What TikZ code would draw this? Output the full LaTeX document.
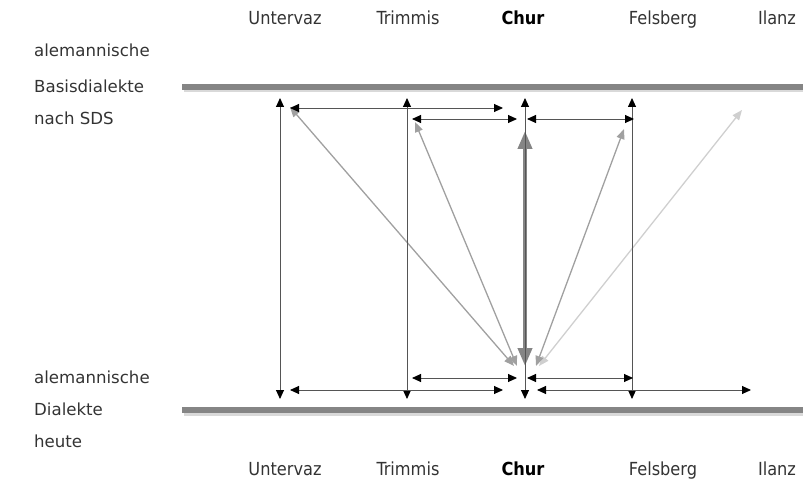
\documentclass[tikz,border=0pt]{standalone}
\usepackage{fontspec}
\setmainfont{DejaVu Sans}
\newfontfamily\condfont{DejaVu Sans Condensed}
\usetikzlibrary{arrows.meta}
\definecolor{txt}{HTML}{333333}
\definecolor{barc}{HTML}{858585}
\definecolor{linec}{HTML}{555555}
\definecolor{diagc}{HTML}{A0A0A0}
\definecolor{diagl}{HTML}{CFCFCF}
\begin{document}
\begin{tikzpicture}[x=1pt,y=-1pt,
  hdr/.style={inner sep=0pt, anchor=base, text=txt, font=\condfont\fontsize{18}{21}\selectfont},
  hdrb/.style={hdr, text=black, font=\condfont\bfseries\fontsize{18}{21}\selectfont},
  lbl/.style={inner sep=0pt, anchor=west, text=txt, font=\fontsize{16.6}{20}\selectfont},
  bartop/.style={line width=6pt, draw=barc},
  barshadow/.style={line width=6pt, draw=black!15},
  conn/.style={draw=linec, line width=0.9pt,
    arrows={Triangle[length=9pt,width=8pt,color=black]-Triangle[length=9pt,width=8pt,color=black]}},
  diag/.style={draw=diagc, line width=1.3pt,
    arrows={Triangle[length=10pt,width=8pt]-Triangle[length=10pt,width=8pt]}},
  diaglight/.style={diag, draw=diagl},
  thickarr/.style={draw=barc, line width=4pt,
    arrows={Triangle[length=18pt,width=14pt]-Triangle[length=18pt,width=14pt]}}
]
\useasboundingbox (0,0) rectangle (803,486);

% header and footer labels (baseline aligned)
\node[hdr] (hU) at (285,24.5) {Untervaz};
\node[hdr] (hT) at (408,24.5) {Trimmis};
\node[hdrb] (hC) at (523,24.5) {Chur};
\node[hdr] (hF) at (663,24.5) {Felsberg};
\node[hdr] (hI) at (777,24.5) {Ilanz};
\node[hdr] (fU) at (285,475.5) {Untervaz};
\node[hdr] (fT) at (408,475.5) {Trimmis};
\node[hdrb] (fC) at (523,475.5) {Chur};
\node[hdr] (fF) at (663,475.5) {Felsberg};
\node[hdr] (fI) at (777,475.5) {Ilanz};

% left labels
\node[lbl] (l1) at (34,50) {alemannische};
\node[lbl] (l2) at (34,86) {Basisdialekte};
\node[lbl] (l3) at (34,118) {nach SDS};
\node[lbl] (l4) at (34,377) {alemannische};
\node[lbl] (l5) at (34,409) {Dialekte};
\node[lbl] (l6) at (34,441) {heute};

% bars
\coordinate (btL) at (182,87);
\coordinate (btR) at (803,87);
\coordinate (bbL) at (182,410);
\coordinate (bbR) at (803,410);
\draw[barshadow] ([shift={(1.5,2.5)}]btL) -- ([shift={(1.5,2.5)}]btR);
\draw[barshadow] ([shift={(1.5,2.5)}]bbL) -- ([shift={(1.5,2.5)}]bbR);
\draw[bartop] (btL) -- (btR);
\draw[bartop] (bbL) -- (bbR);

% vertical connectors
\coordinate (Ut) at (280,98);  \coordinate (Ub) at (280,399);
\coordinate (Tt) at (407,98);  \coordinate (Tb) at (407,399);
\coordinate (Ct) at (525,98);  \coordinate (Cb) at (525,399);
\coordinate (Ft) at (632,98);  \coordinate (Fb) at (632,399);

% thick Chur arrow
\coordinate (CTt) at (525,131); \coordinate (CTb) at (525,366);
\draw[thickarr] (CTt) -- (CTb);

% diagonals
\coordinate (dU) at (290,107);
\coordinate (dT) at (415,122);
\coordinate (dF) at (624,129);
\coordinate (dI) at (742,110);
\coordinate (dL) at (514,366);
\coordinate (dL2) at (517,366);
\coordinate (dR) at (536,366);
\coordinate (dR2) at (539,366);
\draw[diaglight] (dI) -- (dR2);
\draw[diag] (dU) -- (dL);
\draw[diag] (dT) -- (dL2);
\draw[diag] (dF) -- (dR);

\draw[conn] (Ut) -- (Ub);
\draw[conn] (Tt) -- (Tb);
\draw[conn] (Ct) -- (Cb);
\draw[conn] (Ft) -- (Fb);

% top horizontals
\coordinate (h1a) at (290,108); \coordinate (h1b) at (503,108);
\coordinate (h2a) at (412,119); \coordinate (h2b) at (517,119);
\coordinate (h3a) at (527,119); \coordinate (h3b) at (634,119);
\draw[conn] (h1a) -- (h1b);
\draw[conn] (h2a) -- (h2b);
\draw[conn] (h3a) -- (h3b);

% bottom horizontals
\coordinate (g1a) at (412,378); \coordinate (g1b) at (517,378);
\coordinate (g2a) at (527,378); \coordinate (g2b) at (633,378);
\coordinate (g3a) at (290,390); \coordinate (g3b) at (503,390);
\coordinate (g4a) at (537,390); \coordinate (g4b) at (751,390);
\draw[conn] (g1a) -- (g1b);
\draw[conn] (g2a) -- (g2b);
\draw[conn] (g3a) -- (g3b);
\draw[conn] (g4a) -- (g4b);
\end{tikzpicture}
\end{document}
